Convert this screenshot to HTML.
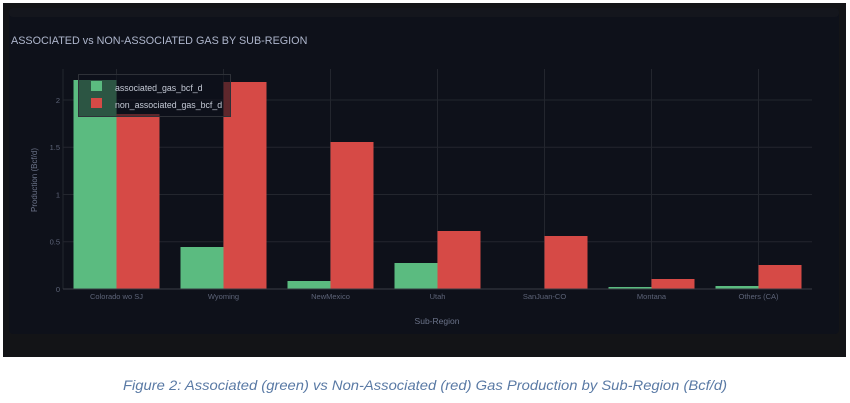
<!DOCTYPE html>
<html><head><meta charset="utf-8"><style>
html,body{margin:0;padding:0;background:#fff;width:850px;height:403px;overflow:hidden}
svg{display:block}
text{font-family:"Liberation Sans",sans-serif}
</style></head><body>
<svg width="850" height="403" viewBox="0 0 850 403" xmlns="http://www.w3.org/2000/svg">
<rect x="3" y="3" width="843" height="354" fill="#131417"/>
<rect x="9" y="8" width="830" height="326" rx="4" fill="#0e111a"/>
<rect x="9" y="8" width="830" height="9" rx="4" fill="#14161d"/>
<text x="11" y="44" font-size="10.8" fill="#aeb6cc">ASSOCIATED vs NON-ASSOCIATED GAS BY SUB-REGION</text>
<g stroke="#23262e" stroke-width="1">
<line x1="63" y1="241.7" x2="812" y2="241.7"/>
<line x1="63" y1="194.5" x2="812" y2="194.5"/>
<line x1="63" y1="147.2" x2="812" y2="147.2"/>
<line x1="63" y1="100" x2="812" y2="100"/>
<line x1="63" y1="69" x2="63" y2="289"/>
<line x1="116.5" y1="69" x2="116.5" y2="289"/>
<line x1="223.5" y1="69" x2="223.5" y2="289"/>
<line x1="330.5" y1="69" x2="330.5" y2="289"/>
<line x1="437.5" y1="69" x2="437.5" y2="289"/>
<line x1="544.5" y1="69" x2="544.5" y2="289"/>
<line x1="651.5" y1="69" x2="651.5" y2="289"/>
<line x1="758.5" y1="69" x2="758.5" y2="289"/>
</g>
<g fill="#5bbb80">
<rect x="73.5" y="80" width="43" height="209"/>
<rect x="180.5" y="247" width="43" height="42"/>
<rect x="287.5" y="281" width="43" height="8"/>
<rect x="394.5" y="263" width="43" height="26"/>
<rect x="608.5" y="287" width="43" height="2"/>
<rect x="715.5" y="286" width="43" height="3"/>
</g>
<g fill="#d64a46">
<rect x="116.5" y="114" width="43" height="175"/>
<rect x="223.5" y="82" width="43" height="207"/>
<rect x="330.5" y="142" width="43" height="147"/>
<rect x="437.5" y="231" width="43" height="58"/>
<rect x="544.5" y="236" width="43" height="53"/>
<rect x="651.5" y="279" width="43" height="10"/>
<rect x="758.5" y="265" width="43" height="24"/>
</g>
<line x1="63" y1="289" x2="812" y2="289" stroke="#3a3d45" stroke-width="1"/>
<g font-size="7.5" fill="#5d6478" text-anchor="end">
<text x="60" y="292">0</text>
<text x="60" y="244.5">0.5</text>
<text x="60" y="197.5">1</text>
<text x="60" y="150">1.5</text>
<text x="60" y="103">2</text>
</g>
<text transform="translate(37,180) rotate(-90)" font-size="8" fill="#6b7389" text-anchor="middle">Production (Bcf/d)</text>
<g font-size="7.5" fill="#5d6478" text-anchor="middle">
<text x="116.5" y="299">Colorado wo SJ</text>
<text x="223.5" y="299">Wyoming</text>
<text x="330.5" y="299">NewMexico</text>
<text x="437.5" y="299">Utah</text>
<text x="544.5" y="299">SanJuan-CO</text>
<text x="651.5" y="299">Montana</text>
<text x="758.5" y="299">Others (CA)</text>
</g>
<text x="437" y="324" font-size="8.5" fill="#6b7389" text-anchor="middle">Sub-Region</text>
<rect x="78.5" y="74.5" width="152" height="42" fill="rgba(14,17,26,0.6)" stroke="#2e3138" stroke-width="1"/>
<rect x="91" y="81" width="11" height="10" fill="#5bbb80"/>
<rect x="91" y="98" width="11" height="10" fill="#d64a46"/>
<g font-size="8.8" fill="#c5cad6">
<text x="115" y="91">associated_gas_bcf_d</text>
<text x="115" y="108">non_associated_gas_bcf_d</text>
</g>
<text x="425" y="390" font-size="14" font-style="italic" fill="#5a7aa5" text-anchor="middle" textLength="604" lengthAdjust="spacingAndGlyphs">Figure 2: Associated (green) vs Non-Associated (red) Gas Production by Sub-Region (Bcf/d)</text>
</svg>
</body></html>
